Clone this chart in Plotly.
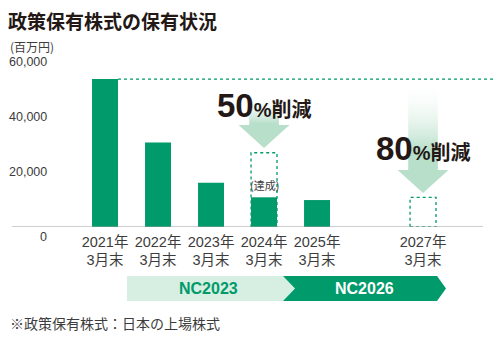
import plotly.graph_objects as go

# ---- data ----
years = ["2021年", "2022年", "2023年", "2024年", "2025年"]
x_pos = [0, 1, 2, 3, 4]
holdings = [53800, 30700, 16100, 10800, 9800]          # 百万円
target_years = ["2024年", "2027年"]
target_pos = [3, 6]
target_vals = [27000, 10800]
tick_pos = [0, 1, 2, 3, 4, 6]
tick_text = ["2021年<br>3月末", "2022年<br>3月末", "2023年<br>3月末",
             "2024年<br>3月末", "2025年<br>3月末", "2027年<br>3月末"]
y_ticks = [0, 20000, 40000, 60000]
y_tick_text = ["0", "20,000", "40,000", "60,000"]

GREEN = "#009a6b"
LIGHT = "#b8dfca"
PALE = "#d6efe2"
DARK = "#231815"
GRAY = "#3c3c3c"
JP = "Noto Sans CJK JP"
NUM = "Liberation Sans, Noto Sans CJK JP"

W, H = 501, 340
ML, MR, MT, MB = 12, 8, 62, 113
XMIN, XMAX = -1.755, 7.32
YMAX = 60000
PW = W - ML - MR
PH = H - MT - MB


def px_x(px):  # page px -> paper x
    return (px - ML) / PW


def px_y(py):  # page px -> paper y
    return (H - MB - py) / PH


fig = go.Figure()

# bars
fig.add_trace(go.Bar(x=x_pos, y=holdings, width=0.49, marker_color=GREEN,
                     marker_line_width=0, showlegend=False, hoverinfo="skip"))


# gradient arrows
def arrow(cx, top, head_top, tip, solid_frac):
    sw, hw = 0.28, 0.48
    xs = [cx - sw, cx + sw, cx + sw, cx + hw, cx, cx - hw, cx - sw, cx - sw]
    ys = [top, top, head_top, head_top, tip, head_top, head_top, top]
    fig.add_trace(go.Scatter(
        x=xs, y=ys, mode="lines", fill="toself", line=dict(width=0),
        fillgradient=dict(type="vertical", start=tip, stop=top,
                          colorscale=[[0, LIGHT], [solid_frac, LIGHT], [1, "rgba(255,255,255,0)"]]),
        showlegend=False, hoverinfo="skip"))


arrow(3, 48500, 37100, 28700, 0.45)
arrow(6, 53000, 20700, 12400, 0.38)

shapes = []
# dashed target boxes
for tp, tv in zip(target_pos, target_vals):
    shapes.append(dict(type="rect", xref="x", yref="y", x0=tp - 0.245, x1=tp + 0.245,
                       y0=0, y1=tv, line=dict(color=GREEN, width=1.3, dash="dot"),
                       fillcolor="rgba(0,0,0,0)", layer="above"))
# reference line at 2021 level
shapes.append(dict(type="line", xref="x", yref="y", x0=0.245, x1=XMAX, y0=holdings[0], y1=holdings[0],
                   line=dict(color=GREEN, width=1.2, dash="dot")))
# baseline
shapes.append(dict(type="line", xref="paper", yref="y", x0=0, x1=px_x(483), y0=0, y1=0,
                   line=dict(color="#a0a0a0", width=1.2), layer="above"))

# timeline chevrons
yt, ym, yb = px_y(276), px_y(288.5), px_y(301)
xa, xb, xc = px_x(127), px_x(283), px_x(295)
xd, xe = px_x(437), px_x(446)
shapes.append(dict(type="path", xref="paper", yref="paper",
                   path=f"M {xa} {yt} L {xb} {yt} L {xc} {ym} L {xb} {yb} L {xa} {yb} Z",
                   fillcolor=PALE, line=dict(width=0)))
shapes.append(dict(type="path", xref="paper", yref="paper",
                   path=f"M {xb} {yt} L {xd} {yt} L {xe} {ym} L {xd} {yb} L {xb} {yb} L {xc} {ym} Z",
                   fillcolor=GREEN, line=dict(width=0)))

ann = []
# y tick labels
for v, t in zip(y_ticks, y_tick_text):
    ann.append(dict(xref="paper", yref="y", x=px_x(49), y=v, text=t, showarrow=False,
                    xanchor="right", yanchor="middle", yshift=-10 if v == 0 else 0,
                    font=dict(family=NUM, size=12.5, color=GRAY)))
# unit
ann.append(dict(xref="paper", yref="paper", x=px_x(8), y=px_y(46.5), text="(百万円)", showarrow=False,
                xanchor="left", yanchor="middle", font=dict(family=JP, size=12, color=GRAY)))
# reduction texts
ann.append(dict(xref="x", yref="y", x=3, y=44200, showarrow=False, xanchor="center", yanchor="middle",
                text="<b><span style='font-size:33px'>50</span>%削減</b>",
                font=dict(family=NUM, size=20, color=DARK)))
ann.append(dict(xref="x", yref="y", x=6, y=28700, showarrow=False, xanchor="center", yanchor="middle",
                text="<b><span style='font-size:33px'>80</span>%削減</b>",
                font=dict(family=NUM, size=20, color=DARK)))
ann.append(dict(xref="x", yref="y", x=3, y=15300, showarrow=False, text="(達成)",
                xanchor="center", yanchor="middle",
                font=dict(family=JP, size=11, color=GRAY)))
# timeline labels
ann.append(dict(xref="paper", yref="paper", x=px_x(208), y=ym, text="<b>NC2023</b>", showarrow=False,
                xanchor="center", yanchor="middle",
                font=dict(family="Liberation Sans Narrow, Liberation Sans", size=16, color=GREEN)))
ann.append(dict(xref="paper", yref="paper", x=px_x(364), y=ym, text="<b>NC2026</b>", showarrow=False,
                xanchor="center", yanchor="middle",
                font=dict(family="Liberation Sans Narrow, Liberation Sans", size=16, color="white")))
# footnote
ann.append(dict(xref="paper", yref="paper", x=px_x(8), y=px_y(323), text="※政策保有株式：日本の上場株式",
                showarrow=False, xanchor="left", yanchor="middle",
                font=dict(family=JP, size=14, color=GRAY)))

fig.update_layout(
    width=W, height=H, margin=dict(l=ML, r=MR, t=MT, b=MB, autoexpand=False),
    paper_bgcolor="white", plot_bgcolor="white",
    title=dict(text="<b>政策保有株式の保有状況</b>", xref="container", yref="container",
               x=8 / W, y=1 - 22 / H, xanchor="left", yanchor="middle",
               font=dict(family=JP, size=19, color=DARK)),
    xaxis=dict(range=[XMIN, XMAX], tickvals=tick_pos, ticktext=tick_text, showgrid=False,
               zeroline=False, showline=False, ticks="", fixedrange=True, ticklabelstandoff=4,
               tickfont=dict(family=NUM, size=14.5, color=GRAY)),
    yaxis=dict(range=[0, YMAX], showgrid=False, zeroline=False, showline=False,
               showticklabels=False, ticks="", fixedrange=True),
    shapes=shapes, annotations=ann, bargap=0.5,
)

fig.write_html("out.html")
